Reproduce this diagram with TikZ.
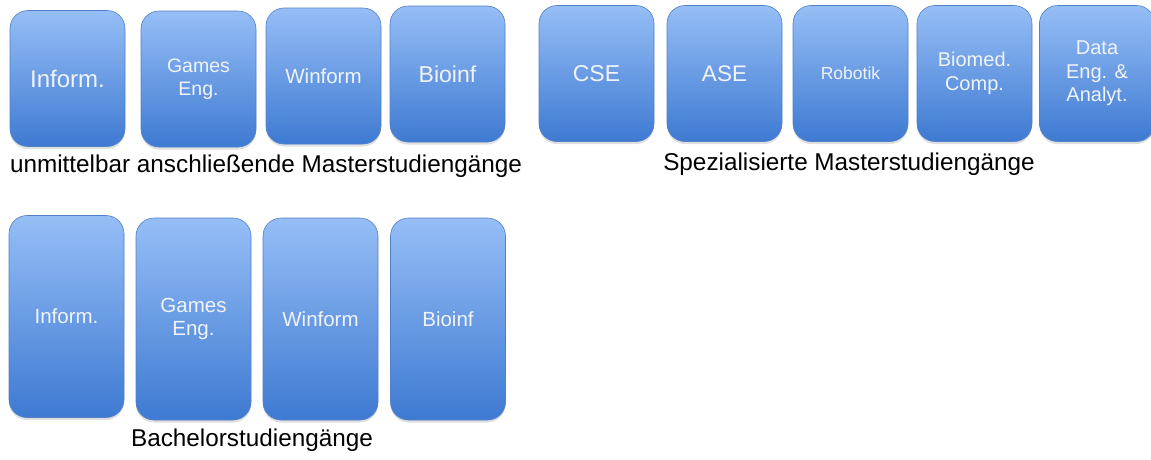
\documentclass[tikz,border=0pt]{standalone}
\usepackage{fontspec}
\setmainfont{Liberation Sans}
\usetikzlibrary{shadows}
\definecolor{boxtop}{RGB}{150,190,246}
\definecolor{boxbot}{RGB}{62,122,210}
\definecolor{boxline}{RGB}{82,128,198}
\definecolor{boxtext}{RGB}{240,243,248}
\begin{document}
\begin{tikzpicture}[x=1pt,y=-1pt,
  prog/.style={draw=boxline, line width=0.6pt, rounded corners=18pt,
    top color=boxtop, bottom color=boxbot, text=boxtext, align=center,
    minimum width=115pt, inner sep=0pt,
    drop shadow={opacity=0.25, shadow xshift=0pt, shadow yshift=-2.5pt}},
  short/.style={prog, minimum height=136pt},
  tall/.style={prog, minimum height=202pt},
  fs/.style={font=\fontsize{#1}{23.5}\selectfont},
  grp/.style={text=black, font=\fontsize{24.3}{27}\selectfont}]
\useasboundingbox (0,0) rectangle (1151,459);
% unmittelbar anschliessende Master
\node[short, fs=24] (mi) at (67.5,78.5) {Inform.};
\node[short, fs=19.5] (mg) at (198.5,79) {Games\\Eng.};
\node[short, fs=20.5] (mw) at (323.5,76) {Winform};
\node[short, fs=23] (mb) at (447.5,74) {Bioinf};
\node[grp] (lm) at (266,166) {unmittelbar anschließende Masterstudiengänge};
% spezialisierte Master
\node[short, fs=23] (cse) at (596.5,73.5) {CSE};
\node[short, fs=22.5] (ase) at (724.5,73.5) {ASE};
\node[short, fs=17.5] (rob) at (850.5,73.5) {Robotik};
\node[short, fs=20] (bio) at (974.5,73.5) {Biomed.\\Comp.};
\node[short, fs=20] (dat) at (1097,73.5) {Data\\Eng. \&\\Analyt.};
\node[grp] (ls) at (849,164) {Spezialisierte Masterstudiengänge};
% Bachelor
\node[tall, fs=20.5] (bi) at (66.5,316.5) {Inform.};
\node[tall, fs=20.5] (bg) at (193.5,319) {Games\\Eng.};
\node[tall, fs=20.5] (bw) at (320.5,319) {Winform};
\node[tall, fs=20.5] (bb) at (448,319) {Bioinf};
\node[grp] (lb) at (252,440) {Bachelorstudiengänge};
\end{tikzpicture}
\end{document}
